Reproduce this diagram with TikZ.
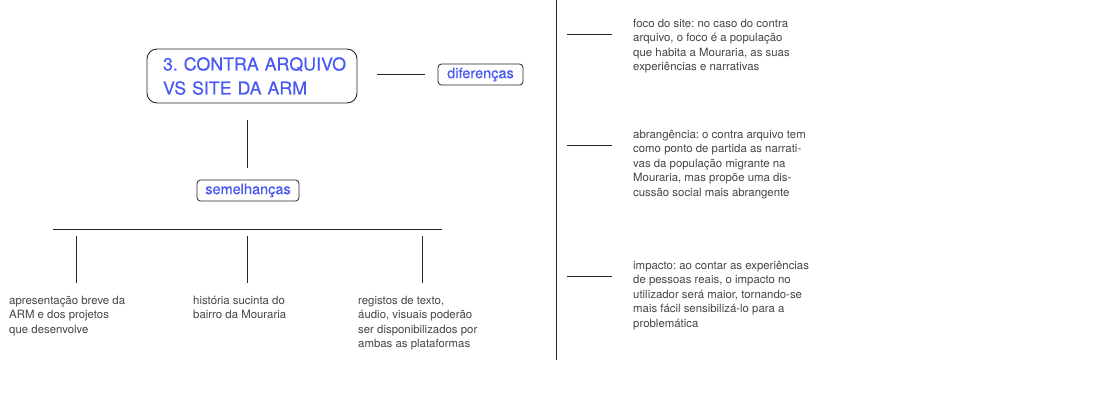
\documentclass[tikz,border=0pt]{standalone}
\usepackage{fontspec}
\setmainfont{TeX Gyre Heros}
\newfontfamily\bluefont[FakeBold=0.5]{TeX Gyre Heros}
\definecolor{tblue}{HTML}{4A5AF0}
\definecolor{tgray}{HTML}{444444}
\begin{document}
\frenchspacing
\begin{tikzpicture}[x=1pt,y=-1pt,
  ln/.style={draw=black!85, line width=0.9pt},
  body/.style={font=\fontsize{11.4}{14.6}\selectfont, text=tgray, align=left, anchor=north west, inner sep=0pt},
  tagbox/.style={draw=black!85, line width=0.8pt, rounded corners=3.5pt, text=tblue,
    font=\bluefont\fontsize{14.5}{16}\selectfont, inner sep=0pt, minimum height=21pt},
  titlebox/.style={draw=black!85, line width=0.9pt, rounded corners=10pt, text=tblue,
    font=\bluefont\fontsize{17.8}{24}\selectfont, align=left, text width=178pt, inner xsep=16pt,
    inner ysep=0pt, minimum height=54pt}]
\path[use as bounding box] (0,0) rectangle (1105,402);

% left part
\node[titlebox] (main) at (252,76) {\mbox{3. CONTRA ARQUIVO}\\\mbox{VS SITE DA ARM}};
\node[tagbox, minimum width=85pt] (dif) at (480.5,74.5) {diferenças};
\node[tagbox, minimum width=102pt] (sem) at (248,190.5) {semelhanças};

\coordinate (d1) at (377,74);
\coordinate (d2) at (425,74);
\draw[ln] (d1) -- (d2);
\coordinate (v1) at (247,120);
\coordinate (v2) at (247,168);
\draw[ln] (v1) -- (v2);

\coordinate (hL) at (53,229);
\coordinate (hR) at (442,229);
\draw[ln] (hL) -- (hR);
\coordinate (a1) at (76,236);  \coordinate (a2) at (76,283);
\coordinate (b1) at (247,236); \coordinate (b2) at (247,283);
\coordinate (c1) at (422,236); \coordinate (c2) at (422,283);
\draw[ln] (a1) -- (a2);
\draw[ln] (b1) -- (b2);
\draw[ln] (c1) -- (c2);

\node[body] (t1) at (9,295.5) {apresentação breve da\\ARM e dos projetos\\que desenvolve};
\node[body] (t2) at (193,295.5) {história sucinta do\\bairro da Mouraria};
\node[body] (t3) at (358,295.5) {registos de texto,\\áudio, visuais poderão\\ser disponibilizados por\\ambas as plataformas};

% divider
\coordinate (m1) at (556,0);
\coordinate (m2) at (556,360);
\draw[ln] (m1) -- (m2);

% right part
\coordinate (p1) at (567,34);  \coordinate (p2) at (612,34);
\coordinate (q1) at (567,145); \coordinate (q2) at (612,145);
\coordinate (s1) at (567,276); \coordinate (s2) at (612,276);
\draw[ln] (p1) -- (p2);
\draw[ln] (q1) -- (q2);
\draw[ln] (s1) -- (s2);

\node[body] (r1) at (633,18.5) {foco do site: no caso do contra\\arquivo, o foco é a população\\que habita a Mouraria, as suas\\experiências e narrativas};
\node[body] (r2) at (633,129.5) {abrangência: o contra arquivo tem\\como ponto de partida as narrati-\\vas da população migrante na\\Mouraria, mas propõe uma dis-\\cussão social mais abrangente};
\node[body] (r3) at (633,260.5) {impacto: ao contar as experiências\\de pessoas reais, o impacto no\\utilizador será maior, tornando-se\\mais fácil sensibilizá-lo para a\\problemática};
\end{tikzpicture}
\end{document}
